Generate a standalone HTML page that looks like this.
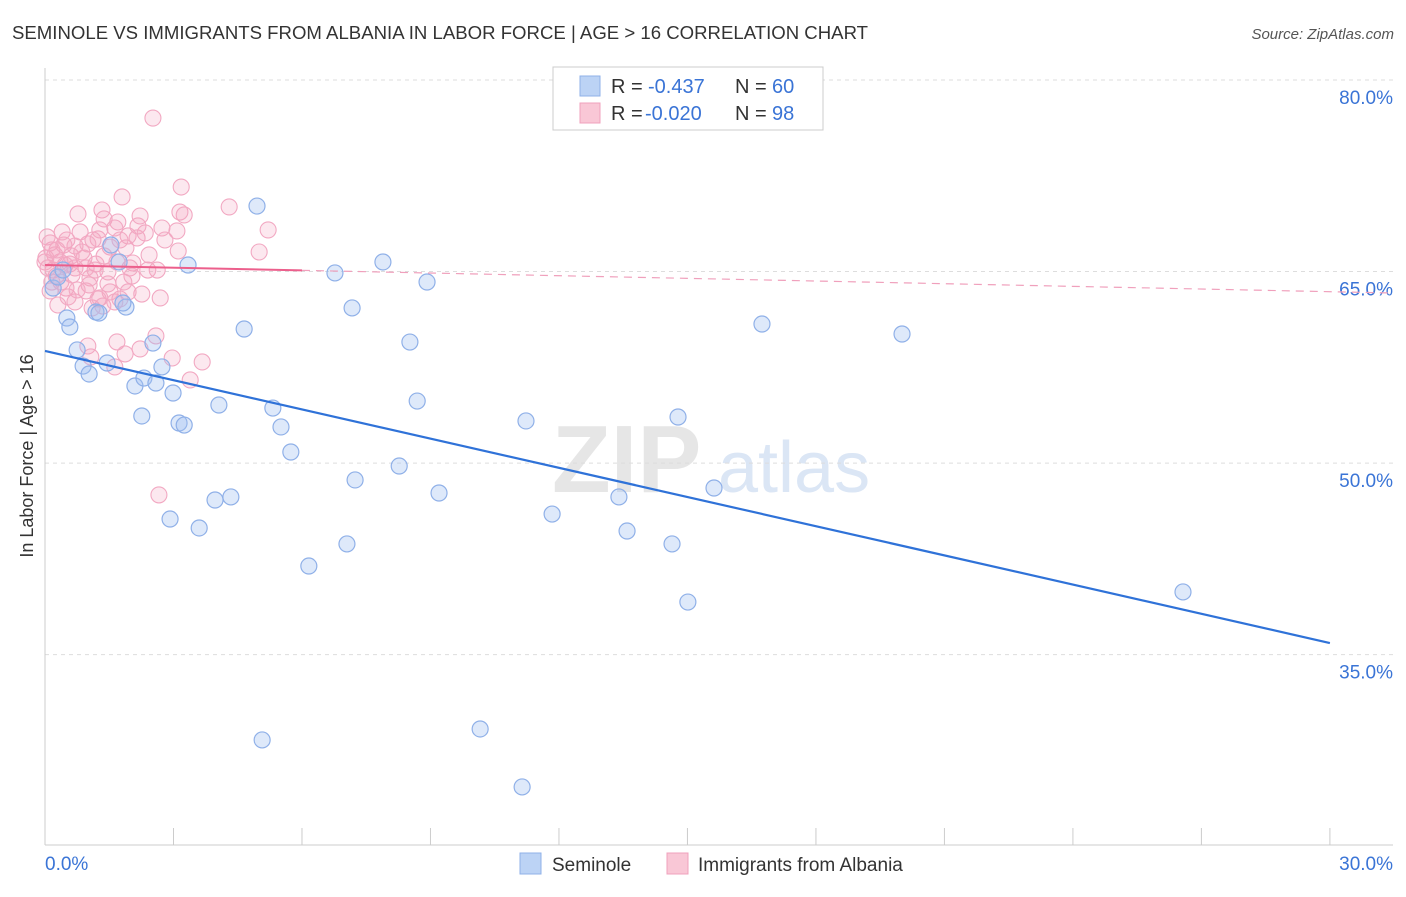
<!DOCTYPE html>
<html><head><meta charset="utf-8">
<style>
body{margin:0;background:#fff;font-family:"Liberation Sans",sans-serif;}
svg text{font-family:"Liberation Sans",sans-serif;}
</style></head>
<body>
<svg id="chart" width="1406" height="892" xmlns="http://www.w3.org/2000/svg">
<text x="12" y="39" font-size="18.6" fill="#333">SEMINOLE VS IMMIGRANTS FROM ALBANIA IN LABOR FORCE | AGE &gt; 16 CORRELATION CHART</text>
<text x="1394" y="39" font-size="15" fill="#555" text-anchor="end" font-style="italic">Source: ZipAtlas.com</text>
<g>
<text x="552" y="492" font-size="96" fill="#e6e6e6" font-family="Liberation Serif" font-weight="bold">ZIP</text>
<text x="718" y="492" font-size="72" fill="#dbe6f5">atlas</text>
</g>
<g id="grid"></g>
<g id="axes"></g>
<g id="pts"></g>
<g id="trends"></g>
<text transform="translate(33,456) rotate(-90)" font-size="18" fill="#333" text-anchor="middle">In Labor Force | Age &gt; 16</text>
<g>
<rect x="553" y="67" width="270" height="63" fill="#fff" stroke="#ccc"/>
<rect x="580" y="76" width="20" height="20" fill="#bcd3f5" stroke="#8fb0e8"/>
<rect x="580" y="103" width="20" height="20" fill="#f9c7d6" stroke="#f0a0bc"/>
<text x="611" y="93" font-size="20" fill="#333">R =</text>
<text x="648" y="93" font-size="20" fill="#3a74d6">-0.437</text>
<text x="735" y="93" font-size="20" fill="#333">N =</text>
<text x="772" y="93" font-size="20" fill="#3a74d6">60</text>
<text x="611" y="120" font-size="20" fill="#333">R =</text>
<text x="645" y="120" font-size="20" fill="#3a74d6">-0.020</text>
<text x="735" y="120" font-size="20" fill="#333">N =</text>
<text x="772" y="120" font-size="20" fill="#3a74d6">98</text>
</g>
<g>
<rect x="520" y="853" width="21" height="21" fill="#bcd3f5" stroke="#8fb0e8"/>
<text x="552" y="871" font-size="19" fill="#333">Seminole</text>
<rect x="667" y="853" width="21" height="21" fill="#f9c7d6" stroke="#f0a0bc"/>
<text x="698" y="871" font-size="19" fill="#333">Immigrants from Albania</text>
</g>
</svg>
<script>
const blueX=[4.95,3.34,6.77,7.89,8.92,7.17,4.65,8.52,16.74,20.01,0.19,0.30,0.51,0.58,1.19,1.26,1.89,1.82,1.54,1.73,0.75,0.89,1.03,1.45,2.10,2.31,2.59,2.52,2.73,2.99,2.26,3.13,3.25,4.06,5.32,5.51,5.74,8.69,11.23,14.78,8.27,7.24,9.20,11.84,13.40,15.62,3.97,4.34,2.92,3.60,7.05,13.59,14.64,6.16,15.01,26.57,5.07,10.16,11.14,0.42];
const blueY=[70.13,65.51,64.89,65.75,64.18,62.15,60.50,59.48,60.89,60.11,63.71,64.57,61.36,60.66,61.83,61.75,62.22,62.54,67.08,65.75,58.86,57.60,56.98,57.84,56.04,56.66,56.27,59.40,57.53,55.49,53.69,53.14,52.98,54.55,54.31,52.83,50.87,54.86,53.30,53.61,49.77,48.68,47.66,46.01,47.35,48.05,47.11,47.35,45.62,44.92,43.67,44.68,43.67,41.94,39.12,39.91,28.32,29.18,24.64,65.12];
const pinkX=[2.52,3.18,1.80,4.30,0.77,1.33,3.15,3.25,1.38,1.70,5.21,2.17,2.73,3.08,1.94,0.05,0.51,0.12,0.44,0.70,1.12,1.24,1.00,1.52,2.15,2.34,2.43,3.11,5.00,0.23,0.02,0.91,0.35,0.58,1.19,2.05,1.98,2.62,0.19,0.70,1.47,1.68,1.05,0.37,1.47,0.12,0.49,0.96,1.24,2.26,1.94,1.75,0.30,1.10,0.70,1.35,1.63,2.59,1.68,2.22,1.00,1.07,1.87,2.97,3.67,1.63,3.39,2.66,0.47,0.16,0.40,0.82,1.28,1.63,2.22,0.86,0.61,0.07,0.26,1.17,1.89,2.03,1.52,0.54,2.40,0.96,1.38,0.28,0.63,1.03,0.00,1.28,1.84,2.69,2.80,1.75,0.75,0.16];
const pinkY=[77.02,71.62,70.84,70.06,69.51,69.82,69.66,69.43,69.12,68.88,68.26,68.57,68.41,68.18,67.79,67.71,67.47,67.24,67.08,67.00,67.47,67.55,67.16,66.92,67.63,68.02,66.30,66.61,66.53,66.30,66.06,66.06,65.75,65.59,65.59,65.67,65.28,65.12,65.12,65.28,64.97,65.75,64.50,64.18,64.03,63.48,63.71,63.48,62.85,63.24,63.40,62.85,62.38,62.15,62.62,62.30,62.62,59.96,59.49,58.94,59.17,58.31,58.55,58.23,57.92,57.53,56.51,47.51,65.51,66.69,68.10,68.10,68.26,68.41,69.35,66.53,66.22,65.28,64.65,65.12,66.85,64.65,63.40,63.01,65.12,65.28,66.22,66.69,64.73,63.95,65.75,62.93,64.18,62.93,67.47,67.47,63.56,64.18];
const yTicks=[80,65,50,35];
const yTickLabels=["80.0%","65.0%","50.0%","35.0%"];
const xTicks=[0,3,6,9,12,15,18,21,24,27,30];
const xEndLabels=["0.0%","30.0%"];
const blueTrend=[58.78,35.91]; // at x=0 and x=30
const pinkTrend=[65.51,63.32]; // at x=0 and x=31.47

const NS="http://www.w3.org/2000/svg";
const sx=v=>45+v*42.83;
const sy=v=>80+(80-v)*12.77;
function mk(tag,attrs,parent){const e=document.createElementNS(NS,tag);for(const k in attrs)e.setAttribute(k,attrs[k]);document.getElementById(parent).appendChild(e);return e;}

yTicks.forEach((t,i)=>{
  const l=mk('line',{x1:45,x2:1393,y1:sy(t),y2:sy(t),stroke:'#ddd','stroke-dasharray':'4,4'},'grid');
  
  
  const tx=mk('text',{x:1393,y:sy(t)+24,'font-size':19,fill:'#3a74d6','text-anchor':'end'},'grid');
  tx.textContent=yTickLabels[i];
  
  
});
mk('line',{x1:45,x2:45,y1:68,y2:845,stroke:'#ccc'},'axes');
mk('line',{x1:45,x2:1393,y1:845,y2:845,stroke:'#ccc'},'axes');
xTicks.forEach(t=>{
  const l=mk('line',{x1:sx(t),x2:sx(t),y1:828,y2:845,stroke:'#ccc'},'axes');
  
  
});
const xl0=mk('text',{x:45,y:870,'font-size':19,fill:'#3a74d6'},'axes');xl0.textContent=xEndLabels[0];


const xl1=mk('text',{x:1393,y:870,'font-size':19,fill:'#3a74d6','text-anchor':'end'},'axes');xl1.textContent=xEndLabels[1];



pinkX.forEach((x,i)=>{
  const c=mk('circle',{cx:sx(x),cy:sy(pinkY[i]),r:8,fill:'rgba(245,165,192,0.25)',stroke:'#f2a8c2','stroke-width':1.1},'pts');
  
  
});
blueX.forEach((x,i)=>{
  const c=mk('circle',{cx:sx(x),cy:sy(blueY[i]),r:8,fill:'rgba(160,192,240,0.35)',stroke:'#8fb0e8','stroke-width':1.2},'pts');
  
  
});
const bt=mk('line',{x1:sx(0),y1:sy(blueTrend[0]),x2:sx(30),y2:sy(blueTrend[1]),stroke:'#2f72d8','stroke-width':2.2},'trends');


const pslope=(pinkTrend[1]-pinkTrend[0])/31.47;
const ps=mk('line',{x1:sx(0),y1:sy(pinkTrend[0]),x2:sx(6),y2:sy(pinkTrend[0]+pslope*6),stroke:'#ec5f8c','stroke-width':2},'trends');


const pd=mk('line',{x1:sx(6),y1:sy(pinkTrend[0]+pslope*6),x2:sx(31.47),y2:sy(pinkTrend[1]),stroke:'#f0a0bc','stroke-width':1.2,'stroke-dasharray':'8,6'},'trends');


</script>
</body></html>
